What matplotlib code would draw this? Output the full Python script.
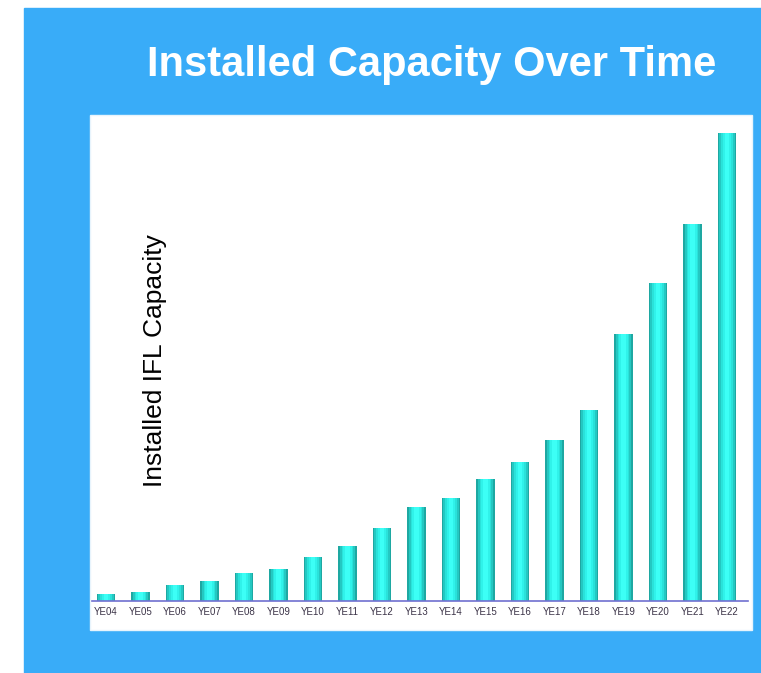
import matplotlib
matplotlib.use("Agg")
import matplotlib.pyplot as plt
from matplotlib.patches import Rectangle

# data (arbitrary units = bar height in pixels)
years = ["YE04", "YE05", "YE06", "YE07", "YE08", "YE09", "YE10", "YE11", "YE12", "YE13",
         "YE14", "YE15", "YE16", "YE17", "YE18", "YE19", "YE20", "YE21", "YE22"]
capacity = [7, 9, 16, 20, 28, 32, 44, 55, 73, 94,
            103, 122, 139, 161, 191, 267, 318, 377, 468]

W, H = 761, 673
fig = plt.figure(figsize=(W / 100, H / 100), dpi=100)
fig.patch.set_facecolor("white")

# blue background and white panel (behind the axes)
fig.patches.append(Rectangle((24 / W, 0), 1 - 24 / W, (H - 8) / H,
                             transform=fig.transFigure, color="#39acf8", zorder=-2))
fig.patches.append(Rectangle((90 / W, 1 - 630 / H), (752 - 90) / W, (630 - 115) / H,
                             transform=fig.transFigure, facecolor="white",
                             edgecolor="#e8f4fc", lw=1, zorder=-1))

fig.text(432 / W, 1 - 65 / H, "Installed Capacity Over Time", color="white",
         fontsize=30, fontweight="bold", family="Liberation Sans",
         ha="center", va="center")

ax = fig.add_axes([92 / W, 1 - 601 / H, (748 - 92) / W, (601 - 115) / H])
ax.set_facecolor("none")

x = list(range(len(years)))
# cylinder look: stacked bars getting narrower and lighter
shades = ["#1ea8a2", "#24c8c2", "#2ae2da", "#30f2ea", "#3cfff6"]
fracs = [0.53, 0.44, 0.34, 0.24, 0.12]
for f, c in zip(fracs, shades):
    ax.bar(x, capacity, width=f, color=c, linewidth=0, zorder=2)

ax.set_xlim(-0.406, 18.61)
ax.set_ylim(0, 486)
ax.set_xticks(x)
ax.set_xticklabels(years, fontsize=7, color="#3c3448", family="Liberation Sans")
ax.tick_params(axis="x", length=0, pad=4)
ax.set_yticks([])
for s in ["top", "right", "left"]:
    ax.spines[s].set_visible(False)
ax.spines["bottom"].set_color("#7070d0")
ax.spines["bottom"].set_linewidth(1.2)

fig.text(155 / W, 1 - 361 / H, "Installed IFL Capacity", rotation=90,
         fontsize=19, family="Liberation Sans", color="black",
         ha="center", va="center")

fig.savefig("out.png", dpi=100)
